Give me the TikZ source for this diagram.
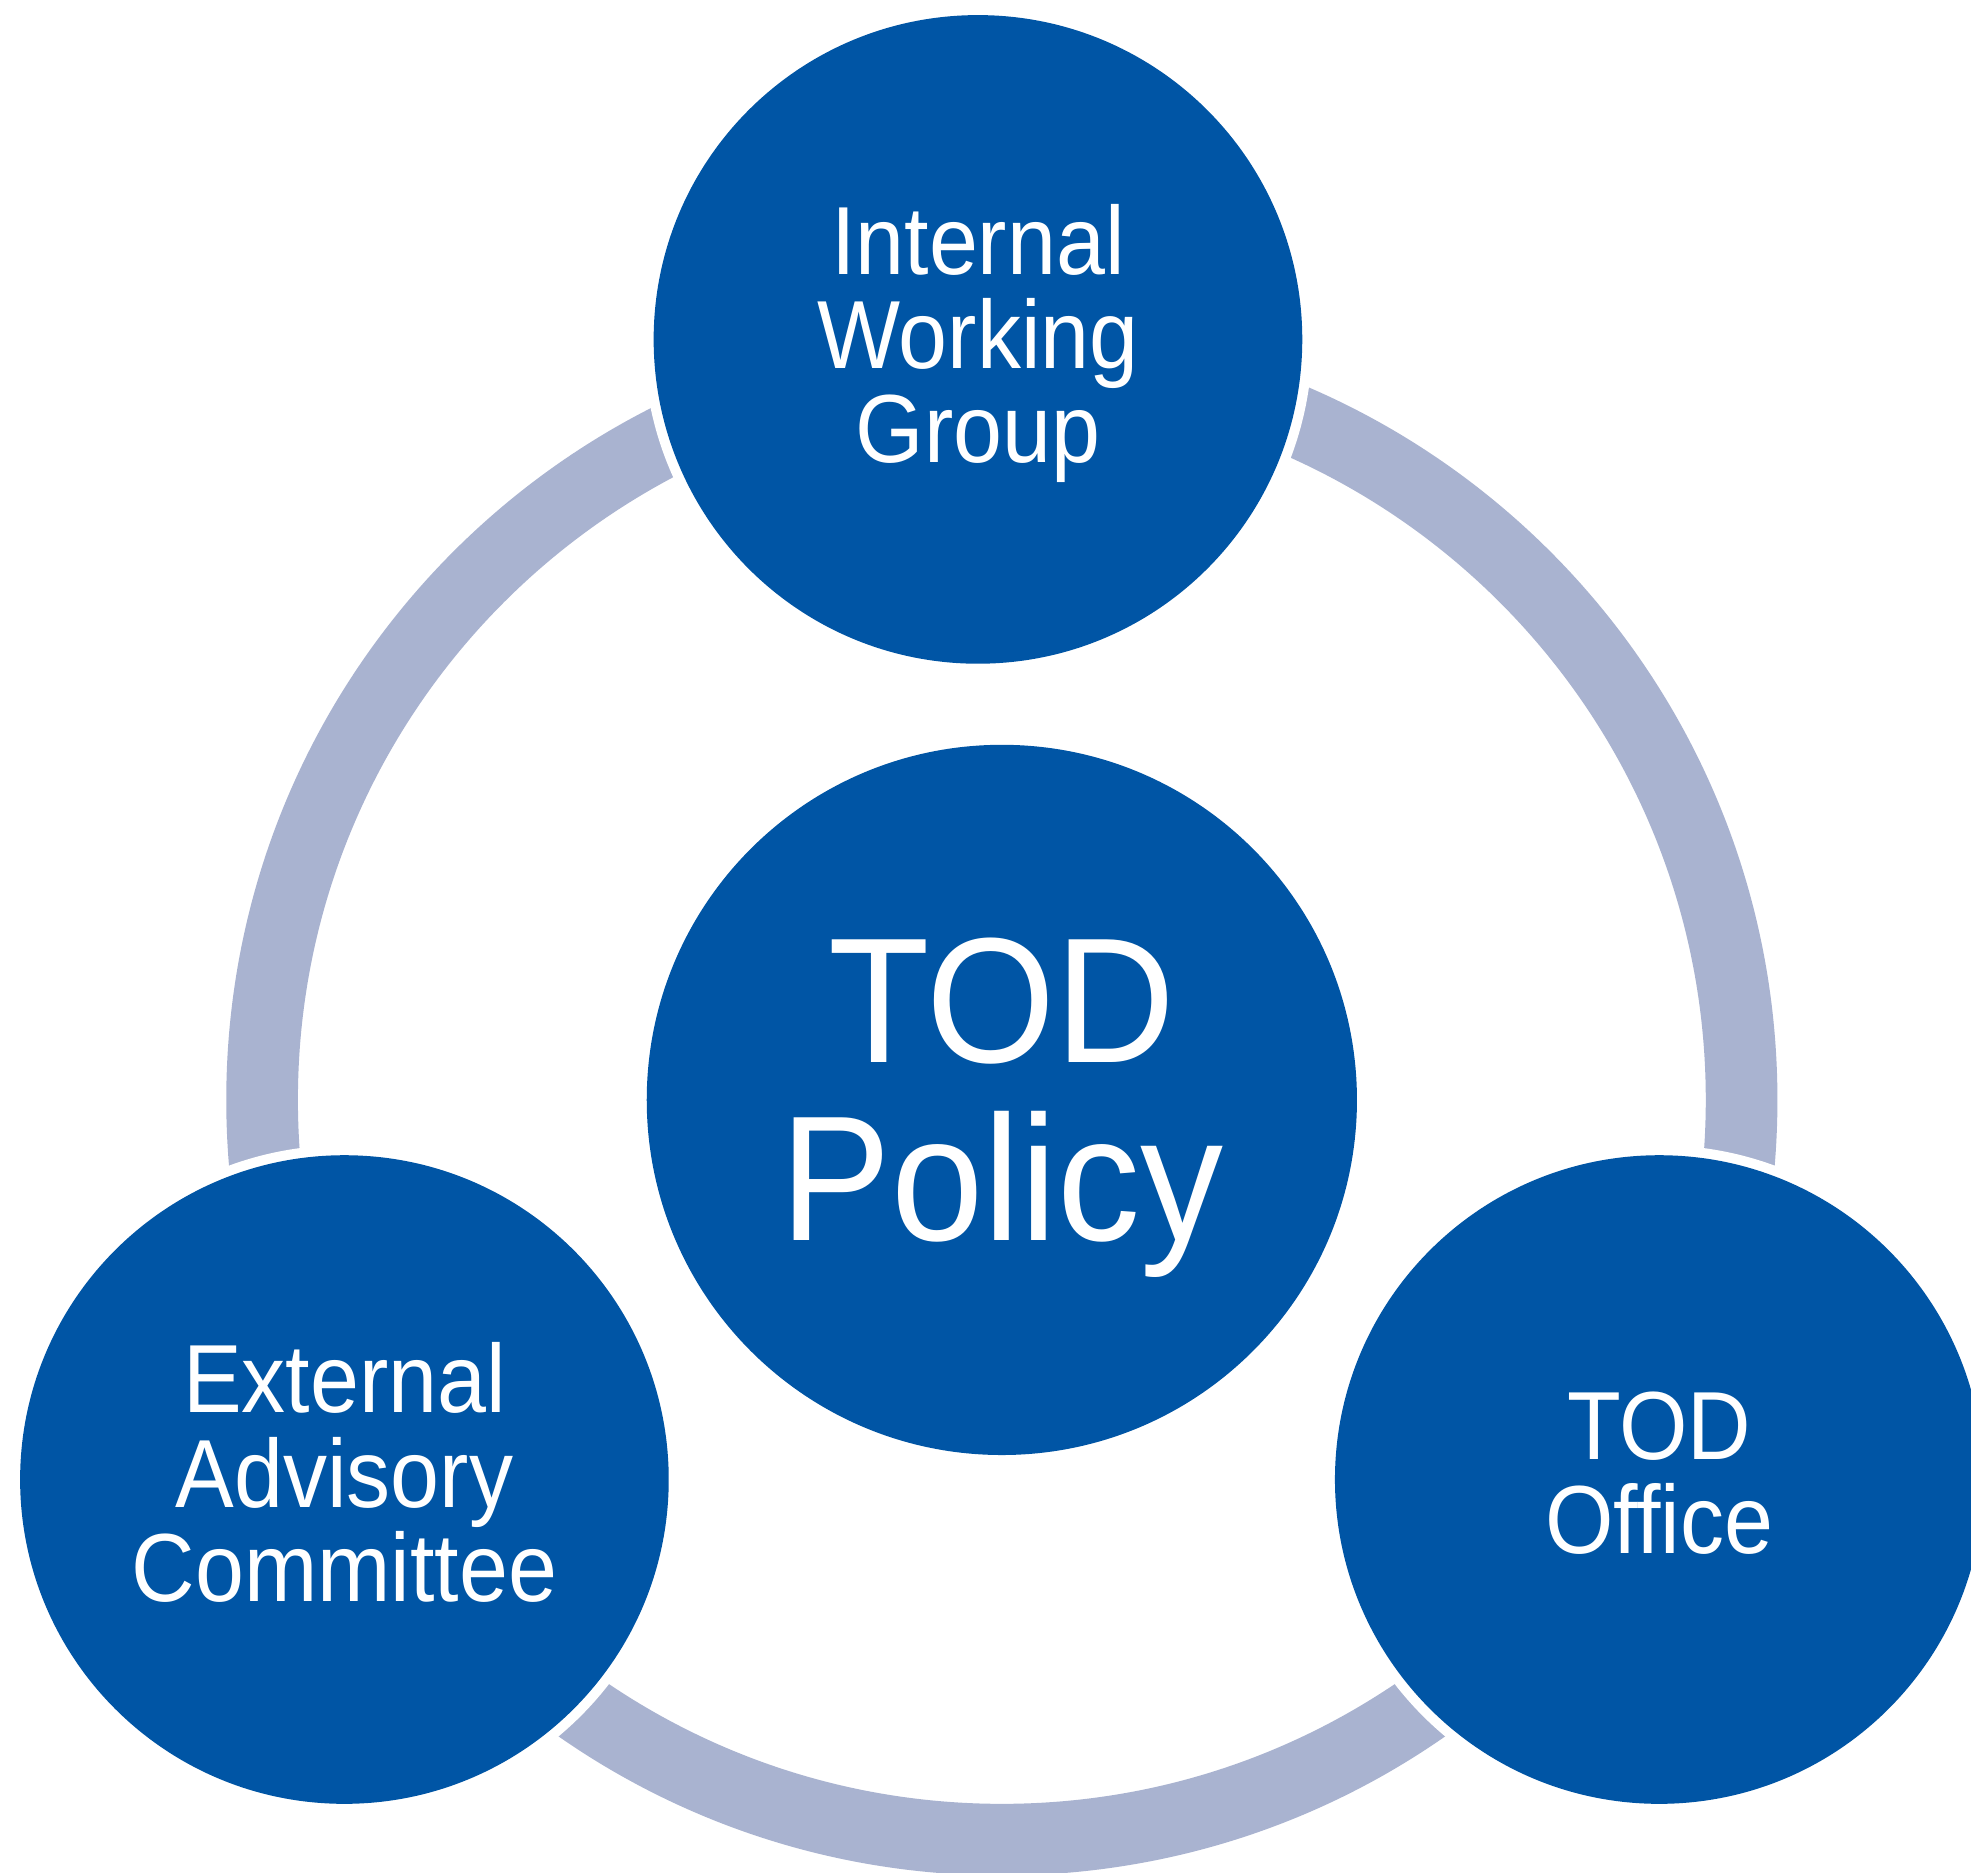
\documentclass[tikz,border=0pt]{standalone}
\usepackage{graphicx}
\usepackage{fontspec}
\setmainfont{Liberation Sans}
\definecolor{todblue}{HTML}{0055A5}
\definecolor{ringgray}{HTML}{A9B3D0}
\newcommand{\stretchlbl}[2]{\scalebox{1}[#1]{\lineskiplimit=-100pt\vtop{\halign{\hfil##\hfil\cr#2\cr}}}}
\begin{document}
\begin{tikzpicture}[x=0.5pt,y=-0.5pt,
  halo/.style={circle, fill=white, inner sep=0pt},
  disc/.style={circle, fill=todblue, inner sep=0pt},
  lbl/.style={text=white, inner sep=0pt, anchor=base, font=\fontsize{35}{34.1}\selectfont},
  biglbl/.style={text=white, inner sep=0pt, anchor=base, font=\fontsize{66}{66}\selectfont}]
\useasboundingbox (0,0) rectangle (1568,1490);
\clip (0,0) rectangle (1568,1490);
\fill[white] (0,0) rectangle (1568,1490);
% ring
\draw[ringgray, line width=28.5pt] (797,875) circle[radius=588.5];
% halos
\node[halo, minimum size=266pt] (h1) at (778,270) {};
\node[halo, minimum size=266pt] (h2) at (274,1177) {};
\node[halo, minimum size=266pt] (h3) at (1320,1177) {};
% discs
\node[disc, minimum size=258pt] (iwg) at (778,270) {};
\node[disc, minimum size=282.5pt] (pol) at (797,875) {};
\node[disc, minimum size=258pt] (eac) at (274,1177) {};
\node[disc, minimum size=258pt] (off) at (1320,1177) {};
% labels
\node[lbl] (iwgt) at (778,218) {\stretchlbl{1.1}{Internal\cr Working\cr Group}};
\node[biglbl] (polt) at (797,845) {\stretchlbl{1.075}{TOD\cr Policy}};
\node[lbl] (eact) at (274,1124) {\stretchlbl{1.1}{External\cr Advisory\cr Committee}};
\node[lbl] (offt) at (1320,1161) {\stretchlbl{1.1}{TOD\cr Office}};
\end{tikzpicture}
\end{document}
